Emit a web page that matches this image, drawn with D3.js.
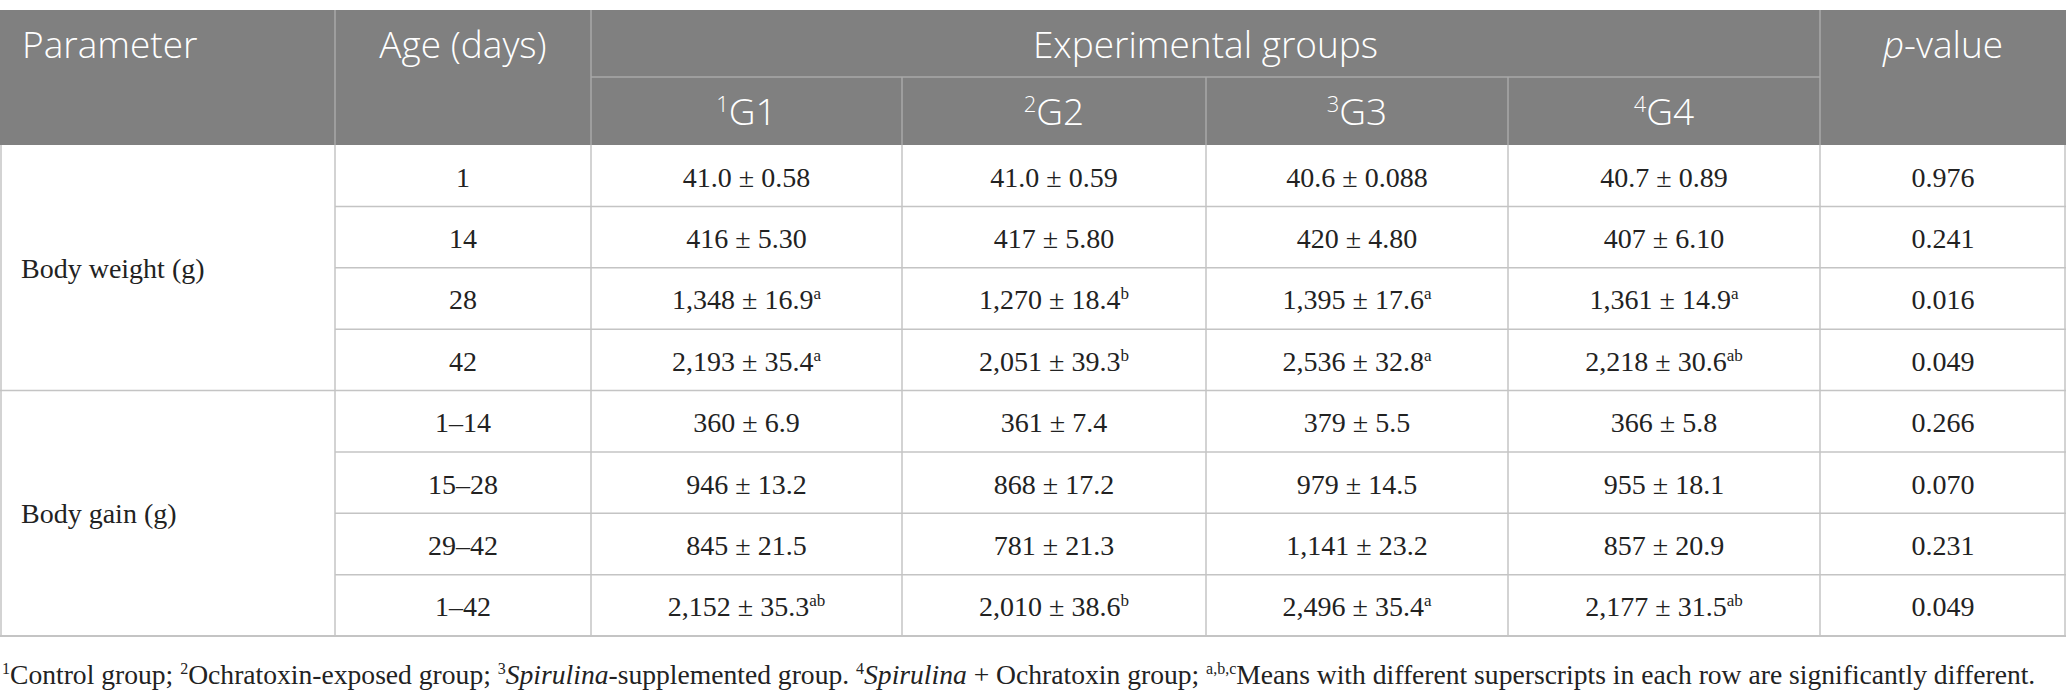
<!DOCTYPE html>
<html><head><meta charset="utf-8">
<script src="https://cdn.jsdelivr.net/npm/d3@7"></script>
<style>html,body{margin:0;padding:0;background:#fff;}</style>
</head><body><svg id="t" width="2068" height="693"></svg>
<script>
// ---- data ----
const parameters = ["Body weight (g)", "Body gain (g)"];
const ages = ["1", "14", "28", "42", "1–14", "15–28", "29–42", "1–42"];
const groups = ["G1", "G2", "G3", "G4"];
const groupNotes = ["1", "2", "3", "4"];
const g1Mean = ["41.0", "416", "1,348", "2,193", "360", "946", "845", "2,152"];
const g1Sem  = ["0.58", "5.30", "16.9", "35.4", "6.9", "13.2", "21.5", "35.3"];
const g1Sup  = ["", "", "a", "a", "", "", "", "ab"];
const g2Mean = ["41.0", "417", "1,270", "2,051", "361", "868", "781", "2,010"];
const g2Sem  = ["0.59", "5.80", "18.4", "39.3", "7.4", "17.2", "21.3", "38.6"];
const g2Sup  = ["", "", "b", "b", "", "", "", "b"];
const g3Mean = ["40.6", "420", "1,395", "2,536", "379", "979", "1,141", "2,496"];
const g3Sem  = ["0.088", "4.80", "17.6", "32.8", "5.5", "14.5", "23.2", "35.4"];
const g3Sup  = ["", "", "a", "a", "", "", "", "a"];
const g4Mean = ["40.7", "407", "1,361", "2,218", "366", "955", "857", "2,177"];
const g4Sem  = ["0.89", "6.10", "14.9", "30.6", "5.8", "18.1", "20.9", "31.5"];
const g4Sup  = ["", "", "a", "ab", "", "", "", "ab"];
const pValues = ["0.976", "0.241", "0.016", "0.049", "0.266", "0.070", "0.231", "0.049"];
const rowsPerParam = 4;

// ---- layout ----
const svg = d3.select("#t");
const colEdges = [0, 335, 591, 902, 1206, 1508, 1820, 2066];
const cols = ["param", "age", "g0", "g1", "g2", "g3", "p"];
const xL = d3.scaleOrdinal().domain(cols).range(colEdges.slice(0, 7));
const xR = d3.scaleOrdinal().domain(cols).range(colEdges.slice(1));
const xC = c => (xL(c) + xR(c)) / 2;
const headTop = 10, headMid = 77, headBot = 145, bodyBot = 636;
const y = d3.scaleBand().domain(d3.range(ages.length)).range([headBot, bodyBot]);

const HEAD_FONT = "'Open Sans','Noto Sans',sans-serif";
const BODY_FONT = "'Liberation Serif','DejaVu Serif',serif";
const headFill = "#808080", headLine = "#a9a9a9", bodyLine = "#c4c4c4";

// header background
svg.append("rect").attr("x", 0).attr("y", headTop).attr("width", colEdges[7]).attr("height", headBot - headTop).attr("fill", headFill);

// header lines
const hl = svg.append("g").attr("stroke", headLine).attr("stroke-width", 1.5);
hl.append("line").attr("x1", xL("g0")).attr("x2", xR("g3")).attr("y1", headMid).attr("y2", headMid);
["age", "g0", "p"].forEach(c => hl.append("line").attr("x1", xL(c)).attr("x2", xL(c)).attr("y1", headTop).attr("y2", headBot));
["g1", "g2", "g3"].forEach(c => hl.append("line").attr("x1", xL(c)).attr("x2", xL(c)).attr("y1", headMid).attr("y2", headBot));

// header text
const ht = svg.append("g").attr("fill", "#fff").attr("font-family", HEAD_FONT).attr("font-size", 37).attr("font-weight", 300);
const yH1 = (headTop + headMid) / 2 + 14, yH2 = (headMid + headBot) / 2 + 14;
ht.append("text").attr("x", 22).attr("y", yH1).text("Parameter");
ht.append("text").attr("x", xC("age")).attr("y", yH1).attr("text-anchor", "middle").text("Age (days)");
ht.append("text").attr("x", (xL("g0") + xR("g3")) / 2).attr("y", yH1).attr("text-anchor", "middle").text("Experimental groups");
const pv = ht.append("text").attr("x", xC("p")).attr("y", yH1).attr("text-anchor", "middle");
pv.append("tspan").attr("font-style", "italic").text("p");
pv.append("tspan").text("-value");
groups.forEach((g, i) => {
  const t = ht.append("text").attr("x", xC("g" + i)).attr("y", yH2).attr("text-anchor", "middle");
  t.append("tspan").attr("font-size", 22).attr("dy", -13).text(groupNotes[i]);
  t.append("tspan").attr("dy", 13).text(g);
});

// body lines
const bl = svg.append("g").attr("stroke", bodyLine).attr("stroke-width", 1.5);
d3.range(1, ages.length).forEach(i => {
  const x1 = (i % rowsPerParam === 0) ? 0 : xL("age");
  bl.append("line").attr("x1", x1).attr("x2", colEdges[7]).attr("y1", y(i)).attr("y2", y(i));
});
bl.append("line").attr("x1", 0).attr("x2", colEdges[7]).attr("y1", bodyBot).attr("y2", bodyBot).attr("stroke-width", 2);
["age", "g0", "g1", "g2", "g3", "p"].forEach(c => bl.append("line").attr("x1", xL(c)).attr("x2", xL(c)).attr("y1", headBot).attr("y2", bodyBot));
bl.append("line").attr("x1", 1).attr("x2", 1).attr("y1", headBot).attr("y2", bodyBot);
bl.append("line").attr("x1", colEdges[7] - 1).attr("x2", colEdges[7] - 1).attr("y1", headBot).attr("y2", bodyBot);

// body text
const bt = svg.append("g").attr("fill", "#222").attr("font-family", BODY_FONT).attr("font-size", 28);
const base = i => y(i) + y.bandwidth() / 2 + 11;
parameters.forEach((p, k) => {
  const yc = (y(k * rowsPerParam) + y(k * rowsPerParam + rowsPerParam - 1) + y.bandwidth()) / 2;
  bt.append("text").attr("x", 21).attr("y", yc + 10).text(p);
});
ages.forEach((a, i) => bt.append("text").attr("x", xC("age")).attr("y", base(i)).attr("text-anchor", "middle").text(a));
const means = [g1Mean, g2Mean, g3Mean, g4Mean], sems = [g1Sem, g2Sem, g3Sem, g4Sem], sups = [g1Sup, g2Sup, g3Sup, g4Sup];
groups.forEach((g, j) => {
  ages.forEach((a, i) => {
    const t = bt.append("text").attr("x", xC("g" + j)).attr("y", base(i)).attr("text-anchor", "middle");
    t.append("tspan").text(means[j][i] + " ± " + sems[j][i]);
    if (sups[j][i]) t.append("tspan").attr("font-size", 17).attr("dy", -10).text(sups[j][i]);
  });
});
pValues.forEach((p, i) => bt.append("text").attr("x", xC("p")).attr("y", base(i)).attr("text-anchor", "middle").text(p));

// footnote
const fn = svg.append("text").attr("x", 2).attr("y", 684).attr("fill", "#222").attr("font-family", BODY_FONT).attr("font-size", 27.6);
const parts = [
  ["sup", "1"], ["n", "Control group; "], ["sup", "2"], ["n", "Ochratoxin-exposed group; "],
  ["sup", "3"], ["i", "Spirulina"], ["n", "-supplemented group. "], ["sup", "4"], ["i", "Spirulina"],
  ["n", " + Ochratoxin group; "], ["sup", "a,b,c"], ["n", "Means with different superscripts in each row are significantly different."]
];
let raised = false;
parts.forEach(([k, s]) => {
  const ts = fn.append("tspan").text(s);
  if (k === "sup") { ts.attr("font-size", 16).attr("dy", raised ? 0 : -10); raised = true; }
  else { if (raised) ts.attr("dy", 10); raised = false; if (k === "i") ts.attr("font-style", "italic"); }
});
</script>
</body></html>
